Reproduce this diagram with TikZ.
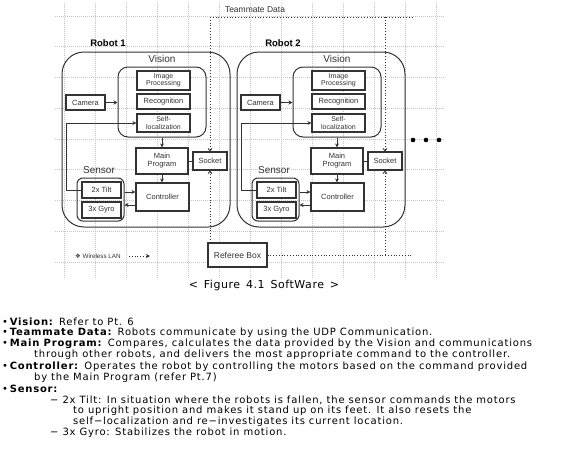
\documentclass[tikz,border=0pt]{standalone}
\usepackage{fontspec}
\setmainfont{DejaVu Sans}
\newfontfamily\diagfont{Liberation Sans}
\newfontfamily\bodyfont{DejaVu Sans}[LetterSpace=8]
\newfontfamily\capfont{DejaVu Sans}[LetterSpace=5]
\newfontfamily\symfont{DejaVu Sans}
\usetikzlibrary{arrows.meta,calc}

\definecolor{ink}{HTML}{333333}
\definecolor{gridc}{HTML}{C4C4C4}

\tikzset{
 gridline/.style={gridc, line width=0.6pt, dash pattern=on 1pt off 1pt},
 box/.style={draw=ink, line width=1.1pt, fill=white, inner sep=0pt, font=\diagfont\fontsize{7.5}{8}\selectfont, text=ink, align=center},
 container/.style={draw=ink, line width=1pt, inner sep=0pt},
 arr/.style={draw=ink, line width=0.9pt, -{Stealth[length=4pt,width=4pt]}},
 link/.style={draw=ink, line width=0.9pt},
 dotline/.style={draw=ink, line width=0.8pt, dotted},
 dotarr/.style={dotline, -{Straight Barb[length=2.5pt,width=4pt]}},
 robottitle/.style={font=\diagfont\bfseries\fontsize{9.5}{10}\selectfont, text=black},
 grouplabel/.style={font=\diagfont\fontsize{10}{11}\selectfont, text=ink},
 smalllabel/.style={font=\diagfont\fontsize{8.5}{9}\selectfont, text=ink},
 bodyline/.style={anchor=west, inner sep=0pt, font=\bodyfont\fontsize{10}{11}\selectfont, text=black},
 dotnode/.style={circle, fill=black, inner sep=0pt, minimum size=4.6pt},
}

\newcommand\robotblock[3]{%
\begin{scope}[xshift=#2pt]
 \node[container, rounded corners=22pt, minimum width=168pt, minimum height=175pt] (#1robot) at (146,139.5) {};
 \node[robottitle] (#1title) at (108,43) {#3};
 \node[container, rounded corners=10pt, minimum width=88pt, minimum height=70pt] (#1vis) at (162,102) {};
 \node[grouplabel] (#1vislab) at (162,59) {Vision};
 \node[box, minimum width=53pt, minimum height=19pt, font=\diagfont\fontsize{7}{7.5}\selectfont] (#1img) at (163.5,80.5) {Image\\Processing};
 \node[box, minimum width=53pt, minimum height=15pt] (#1rec) at (163.5,101.5) {Recognition};
 \node[box, minimum width=53pt, minimum height=18pt, font=\diagfont\fontsize{7}{7.5}\selectfont] (#1self) at (163.5,123) {Self-\\localization};
 \node[box, minimum width=39pt, minimum height=15pt] (#1cam) at (85.5,102.5) {Camera};
 \node[box, minimum width=52pt, minimum height=26pt] (#1main) at (162,161) {Main\\Program};
 \node[box, minimum width=34pt, minimum height=18pt] (#1sock) at (210,161) {Socket};
 \node[box, minimum width=53pt, minimum height=28pt] (#1ctrl) at (162.5,197) {Controller};
 \node[grouplabel] (#1senslab) at (99,170) {Sensor};
 \node[container, rounded corners=6pt, minimum width=47pt, minimum height=43pt] (#1sens) at (100.5,199.5) {};
 \node[box, minimum width=39pt, minimum height=16pt] (#1tilt) at (101.5,190) {2x Tilt};
 \node[box, minimum width=39pt, minimum height=16pt] (#1gyro) at (101.5,210) {3x Gyro};
 \draw[arr] (#1cam.east) -- (#1cam.east -| #1vis.west);
 \draw[arr] (#1tilt.west) -- ++(-15,0) |- (#1self.west);
 \draw[arr] (#1vis.south) -- (#1main.north);
 \draw[arr] (#1main.south) -- (#1main.south |- #1ctrl.north);
 \draw[arr] ([yshift=7.5pt]#1sens.east) -- ([yshift=7.5pt]#1sens.east -| #1ctrl.west);
 \draw[arr] ([yshift=-8pt]#1ctrl.west) -- ([yshift=-8pt]#1ctrl.west -| #1sens.east);
 \draw[link] (#1main.east) -- (#1sock.west);
\end{scope}}

\begin{document}
\begin{tikzpicture}[x=1pt,y=-1pt]
\useasboundingbox[fill=white] (0,0) rectangle (563,464);
% grid
\foreach \k in {0,...,12} \draw[gridline] (64+31*\k,3) -- (64+31*\k,278);
\foreach \k in {0,...,8} \draw[gridline] (55,16+30.75*\k) -- (445,16+30.75*\k);

\robotblock{r1}{0}{Robot 1}
\robotblock{r2}{175}{Robot 2}

% teammate data
\node[smalllabel] (team) at (255,10) {Teammate Data};
\coordinate (r1top) at (210,17);
\coordinate (r2top) at (385,17);
\coordinate (teamend) at (413,17);
\draw[dotline] (r1top) -- (teamend);
\draw[dotarr] (r1top) -- (r1sock.north);
\draw[dotarr] (r2top) -- (r2sock.north);

% referee box
\node[box, minimum width=59pt, minimum height=24pt, font=\diagfont\fontsize{8.5}{9}\selectfont] (ref) at (237.5,255) {Referee Box};
\coordinate (refend) at (413,255);
\draw[dotarr] (r1sock.south |- ref.north) -- (r1sock.south);
\draw[dotline] (ref.east) -- (refend);
\draw[dotarr] (r2sock.south |- ref.east) -- (r2sock.south);

% dots
\node[dotnode] (d1) at (413,140) {};
\node[dotnode] (d2) at (426,140) {};
\node[dotnode] (d3) at (439,140) {};

% legend
\node[font=\diagfont\fontsize{6.3}{7}\selectfont, text=ink, anchor=west, inner sep=0pt] (wlan) at (75,256) {{\symfont ❖} Wireless LAN};
\coordinate (wl1) at (129,256);
\coordinate (wl2) at (150,256);
\draw[dotline, -{Stealth[length=4pt,width=4pt]}] (wl1) -- (wl2);

% caption
\node[font=\capfont\fontsize{11}{12}\selectfont, text=black] (cap) at (264,285) {<\, Figure\, 4.1\, SoftWare\, >};

% body text
\node[bodyline] (t1) at (2,322) {•\,\textbf{Vision:} Refer to Pt. 6};
\node[bodyline] (t2) at (2,333) {•\,\textbf{Teammate Data:} Robots communicate by using the UDP Communication.};
\node[bodyline] (t3) at (2,344) {•\,\textbf{Main Program:} Compares, calculates the data provided by the Vision and communications};
\node[bodyline] (t4) at (34,355) {through other robots, and delivers the most appropriate command to the controller.};
\node[bodyline] (t5) at (2,367) {•\,\textbf{Controller:} Operates the robot by controlling the motors based on the command provided};
\node[bodyline] (t6) at (34,378) {by the Main Program (refer Pt.7)};
\node[bodyline] (t7) at (2,389) {•\,\textbf{Sensor:}};
\node[bodyline] (t8) at (50,400) {−\ 2x Tilt: In situation where the robots is fallen, the sensor commands the motors};
\node[bodyline] (t9) at (73,411) {to upright position and makes it stand up on its feet. It also resets the};
\node[bodyline] (t10) at (73,422) {self−localization and re−investigates its current location.};
\node[bodyline] (t11) at (50,433) {−\ 3x Gyro: Stabilizes the robot in motion.};
\end{tikzpicture}
\end{document}
